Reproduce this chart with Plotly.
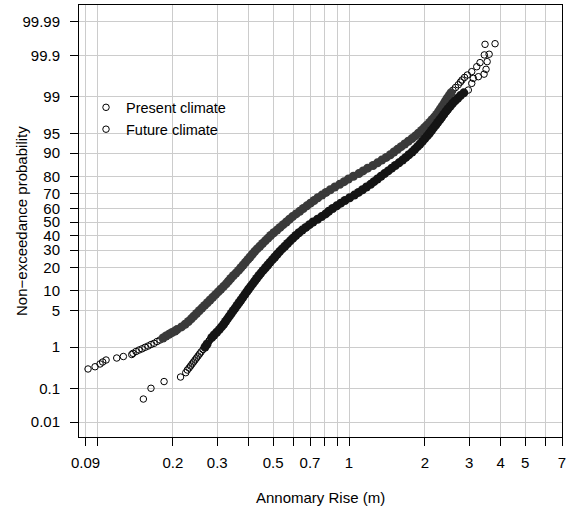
import math
from statistics import NormalDist
import plotly.graph_objects as go

# ---------------- data ----------------
present_prob = [0.315, 0.357, 0.416, 0.463, 0.516, 0.574, 0.621, 0.689, 0.733, 0.804, 0.868, 0.921, 0.993,
                1.058, 1.139, 1.207, 1.318, 1.415, 1.554, 1.705, 1.844, 2.00, 2.14,
                2.275, 2.559, 2.872, 3.216, 3.593, 4.006, 4.457, 4.947, 5.480, 6.057, 6.681, 7.353, 8.076,
                8.851, 9.680, 10.565, 11.507, 12.507, 13.567, 14.686, 15.866, 17.106, 18.406, 19.766,
                21.186, 22.663, 24.196, 25.785, 27.425, 29.116, 30.854, 32.636, 34.458, 36.317, 38.209,
                40.129, 42.074, 44.038, 46.017, 48.006, 50.0, 51.994, 53.983, 55.962, 57.926, 59.871,
                61.791, 63.683, 65.542, 67.364, 69.146, 70.884, 72.575, 74.215, 75.804, 77.337, 78.814,
                80.234, 81.594, 82.894, 84.134, 85.314, 86.433, 87.493, 88.493, 89.435, 90.320, 91.149,
                91.924, 92.647, 93.319, 93.943, 94.520, 95.053, 95.543, 95.994, 96.407, 96.784, 97.128,
                97.441, 97.725, 97.982, 98.214, 98.422, 98.610, 98.778, 98.928, 99.061, 99.180, 99.286,
                99.379, 99.461, 99.534, 99.584, 99.64, 99.685, 99.74, 99.805, 99.847, 99.905, 99.952]
present_rise = [0.0921, 0.0982, 0.1028, 0.1053, 0.1086, 0.1197, 0.1272, 0.1373, 0.1389, 0.1428, 0.1468, 0.1509, 0.1551,
                0.1594, 0.1638, 0.1684, 0.1731, 0.1778, 0.1828, 0.1878, 0.1931, 0.1985, 0.2040,
                0.2077, 0.2164, 0.2237, 0.2304, 0.2364, 0.2421, 0.2482, 0.2544, 0.2607, 0.2673, 0.2740, 0.2808, 0.2878,
                0.2950, 0.3024, 0.3097, 0.3174, 0.3253, 0.3322, 0.3393, 0.3471, 0.3558, 0.3643, 0.3720,
                0.3800, 0.3880, 0.3963, 0.4047, 0.4133, 0.4220, 0.4318, 0.4426, 0.4537, 0.4650, 0.4769,
                0.4885, 0.5025, 0.5175, 0.5323, 0.5476, 0.5640, 0.5800, 0.5967, 0.6166, 0.6373, 0.6580,
                0.6801, 0.7028, 0.7264, 0.7518, 0.7808, 0.8103, 0.8428, 0.8784, 0.9186, 0.9563, 0.9945,
                1.041, 1.094, 1.137, 1.185, 1.245, 1.297, 1.349, 1.405, 1.458, 1.507, 1.557,
                1.609, 1.663, 1.719, 1.777, 1.833, 1.884, 1.939, 1.986, 2.036, 2.087, 2.133,
                2.180, 2.227, 2.266, 2.303, 2.341, 2.380, 2.415, 2.453, 2.494, 2.537, 2.584,
                2.646, 2.712, 2.767, 2.808, 2.873, 2.947, 3.068, 3.212, 3.310, 3.443, 3.465]

future_prob = [0.050, 0.100, 0.151, 0.198, 0.255, 0.297, 0.333, 0.372, 0.416, 0.463, 0.516, 0.574, 0.637,
               0.707, 0.785, 0.889, 1.009, 1.167, 1.349,
               1.390, 1.578, 1.786, 2.018, 2.275, 2.559, 2.872, 3.216, 3.593, 4.006, 4.457, 4.947, 5.480,
               6.057, 6.681, 7.353, 8.076, 8.851, 9.680, 10.565, 11.507, 12.507, 13.567, 14.686, 15.866,
               17.106, 18.406, 19.766, 21.186, 22.663, 24.196, 25.785, 27.425, 29.116, 30.854, 32.636,
               34.458, 36.317, 38.209, 40.129, 42.074, 44.038, 46.017, 48.006, 50.0, 51.994, 53.983,
               55.962, 57.926, 59.871, 61.791, 63.683, 65.542, 67.364, 69.146, 70.884, 72.575, 74.215,
               75.804, 77.337, 78.814, 80.234, 81.594, 82.894, 84.134, 85.314, 86.433, 87.493, 88.493,
               89.435, 90.320, 91.149, 91.924, 92.647, 93.319, 93.943, 94.520, 95.053, 95.543, 95.994,
               96.407, 96.784, 97.128, 97.441, 97.725, 97.982, 98.214, 98.422, 98.610, 98.778, 98.928,
               99.061, 99.180, 99.29, 99.50, 99.62, 99.654, 99.70, 99.773, 99.856, 99.909, 99.954]
future_rise = [0.1527, 0.1637, 0.1845, 0.2145, 0.2249, 0.2282, 0.2318, 0.2350, 0.2382, 0.2415, 0.2448, 0.2482, 0.2516,
               0.2551, 0.2586, 0.2634, 0.2683, 0.2733, 0.2783,
               0.2795, 0.2850, 0.2913, 0.2985, 0.3054, 0.3117, 0.3180, 0.3236, 0.3292, 0.3350, 0.3408, 0.3468, 0.3532,
               0.3594, 0.3657, 0.3724, 0.3790, 0.3855, 0.3924, 0.3992, 0.4066, 0.4145, 0.4221, 0.4298, 0.4382,
               0.4467, 0.4562, 0.4660, 0.4760, 0.4859, 0.4966, 0.5075, 0.5185, 0.5300, 0.5427, 0.5563,
               0.5702, 0.5843, 0.5989, 0.6147, 0.6326, 0.6520, 0.6738, 0.6964, 0.7197, 0.7499, 0.7786,
               0.8077, 0.8306, 0.8608, 0.8934, 0.9270, 0.9632, 1.006, 1.050, 1.090, 1.131, 1.173,
               1.218, 1.256, 1.296, 1.339, 1.383, 1.430, 1.477, 1.526, 1.578, 1.631, 1.680,
               1.727, 1.780, 1.824, 1.869, 1.912, 1.956, 1.999, 2.043, 2.084, 2.125, 2.164,
               2.207, 2.247, 2.291, 2.333, 2.376, 2.420, 2.466, 2.519, 2.572, 2.634, 2.700,
               2.767, 2.854, 2.974, 3.068, 3.113, 3.260, 3.434, 3.497, 3.532, 3.597, 3.797]

# sample size of each series, estimated from the spacing of the tail points
sample_size_est = 2100

x_tick_vals = [0.09, 0.1, 0.2, 0.3, 0.4, 0.5, 0.6, 0.7, 0.8, 0.9, 1, 2, 3, 4, 5, 6, 7]
x_tick_text = ["0.09", "", "0.2", "0.3", "", "0.5", "", "0.7", "", "", "1", "2", "3", "4", "5", "", "7"]
y_tick_probs = [0.01, 0.1, 1, 5, 10, 20, 30, 40, 50, 60, 70, 80, 90, 95, 99, 99.9, 99.99]
y_tick_text = ["0.01", "0.1", "1", "5", "10", "20", "30", "40", "50", "60", "70", "80", "90", "95", "99", "99.9", "99.99"]

# ---------------- probability (normal score) scale ----------------
nd = NormalDist()
def probit(p_percent):
    return nd.inv_cdf(p_percent / 100.0)

def split_dense(probs, rises):
    """Where many original observations fall between two closely spaced read samples,
    the original open circles overlap into a solid band; those samples are drawn as discs."""
    sparse, dense = ([], []), ([], [])
    z = [probit(p) for p in probs]
    n = len(probs)
    for i in range(n):
        obs, dz = [], []
        for j in (i - 1, i + 1):
            if 0 <= j < n:
                obs.append(abs(probs[j] - probs[i]) / 100.0 * sample_size_est)
                dz.append(abs(z[j] - z[i]))
        is_dense = min(obs) >= 2.2 and max(dz) <= 0.06
        tgt = dense if is_dense else sparse
        tgt[0].append(rises[i]); tgt[1].append(z[i])
    return sparse, dense

FONT = "Liberation Sans, Arial, Helvetica, sans-serif"

fig = go.Figure()
for name, probs, rises, col in [("Present climate", present_prob, present_rise, "#3a3a3a"),
                                ("Future climate", future_prob, future_rise, "#141414")]:
    sparse, dense = split_dense(probs, rises)
    fig.add_trace(go.Scatter(
        x=sparse[0], y=sparse[1], mode="markers", name=name, legendgroup=name,
        marker=dict(symbol="circle-open", size=6.5, color="black", line=dict(width=1, color="black")),
    ))
    fig.add_trace(go.Scatter(
        x=dense[0], y=dense[1], mode="markers", name=name, legendgroup=name, showlegend=False,
        marker=dict(symbol="circle", size=9, color=col, line=dict(width=0)),
    ))

fig.update_layout(
    width=574, height=508,
    margin=dict(l=79, r=12, t=5, b=71),
    paper_bgcolor="white", plot_bgcolor="white",
    font=dict(family=FONT, size=15, color="black"),
    showlegend=True,
    legend=dict(x=0.0145, y=0.80, xanchor="left", yanchor="top",
                bgcolor="rgba(0,0,0,0)", borderwidth=0,
                font=dict(family=FONT, size=14.5, color="black"),
                tracegroupgap=0, itemwidth=30),
    annotations=[
        dict(text="Annomary Rise (m)", xref="paper", yref="paper", x=0.5, y=-0.139,
             xanchor="center", yanchor="middle", showarrow=False,
             font=dict(family=FONT, size=15, color="black")),
        dict(text="Non\u2212exceedance probability", xref="paper", yref="paper", x=-0.1201, y=0.5,
             xanchor="center", yanchor="middle", textangle=-90, showarrow=False,
             font=dict(family=FONT, size=15, color="black")),
    ],
)

fig.update_xaxes(
    type="log", range=[math.log10(0.0848), math.log10(7.0)],
    tickmode="array", tickvals=x_tick_vals, ticktext=x_tick_text,
    ticks="outside", ticklen=8, tickwidth=1, tickcolor="black",
    showline=True, linecolor="black", linewidth=1, mirror=True,
    showgrid=True, gridcolor="#cccccc", gridwidth=1, zeroline=False,
    tickfont=dict(family=FONT, size=15, color="black"), ticklabelstandoff=4,
)
fig.update_yaxes(
    range=[-3.996, 4.033],
    tickmode="array", tickvals=[probit(p) for p in y_tick_probs], ticktext=y_tick_text,
    ticks="outside", ticklen=8, tickwidth=1, tickcolor="black",
    showline=True, linecolor="black", linewidth=1, mirror=True,
    showgrid=True, gridcolor="#cccccc", gridwidth=1, zeroline=False,
    tickfont=dict(family=FONT, size=15, color="black"), ticklabelstandoff=7,
)

fig.write_html("out.html")
